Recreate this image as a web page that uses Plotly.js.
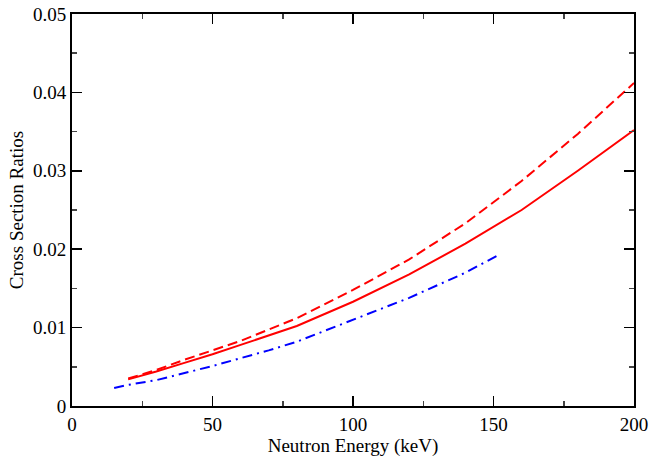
<!DOCTYPE html>
<html>
<head>
<meta charset="utf-8">
<script src="https://cdn.plot.ly/plotly-3.0.1.min.js"></script>
<style>html,body{margin:0;padding:0;background:#fff;}#chart{width:649px;height:459px;}</style>
</head>
<body>
<div id="chart"></div>
<script>
// Solid red curve
const solidX = [20, 30, 40, 50, 60, 80, 100, 120, 140, 160, 180, 200];
const solidY = [0.0034, 0.0044, 0.0055, 0.0066, 0.0078, 0.0102, 0.0133, 0.0168, 0.0207, 0.0250, 0.0300, 0.0352];
// Dashed red curve
const dashX = [20, 30, 40, 50, 60, 80, 100, 120, 140, 160, 180, 200];
const dashY = [0.0035, 0.0046, 0.0059, 0.0071, 0.0083, 0.0112, 0.0148, 0.0187, 0.0233, 0.0287, 0.0347, 0.0412];
// Blue dash-dot curve
const blueX = [15, 20, 30, 40, 50, 60, 70, 80, 100, 120, 140, 152];
const blueY = [0.0023, 0.0027, 0.0033, 0.0042, 0.0051, 0.0061, 0.0071, 0.0082, 0.0110, 0.0138, 0.0170, 0.0193];

const xTicks = [0, 50, 100, 150, 200];
const yTicks = [0, 0.01, 0.02, 0.03, 0.04, 0.05];
const yTickText = ["0", "0.01", "0.02", "0.03", "0.04", "0.05"];

const font = {family: "Liberation Serif, Times New Roman, serif", size: 19, color: "#000"};

const traces = [
  {x: solidX, y: solidY, mode: "lines", line: {color: "#ff0000", width: 2}, showlegend: false},
  {x: dashX, y: dashY, mode: "lines", line: {color: "#ff0000", width: 2, dash: "10px,5px"}, showlegend: false},
  {x: blueX, y: blueY, mode: "lines", line: {color: "#0000ff", width: 2, dash: "10px,5px,2px,5px"}, showlegend: false}
];

const layout = {
  width: 649, height: 459,
  margin: {l: 72, r: 15, t: 14, b: 53},
  paper_bgcolor: "#fff", plot_bgcolor: "#fff",
  font: font,
  xaxis: {
    range: [0, 200], tickvals: xTicks, ticks: "inside", ticklen: 10, tickwidth: 1.5, tickcolor: "#000",
    showline: true, linecolor: "#000", linewidth: 2, mirror: "allticks", showgrid: false, zeroline: false,
    tickfont: font,
    minor: {dtick: 25, ticks: "inside", ticklen: 5, tickwidth: 1.5, tickcolor: "#444", showgrid: false},
    title: {text: "Neutron Energy (keV)", font: font, standoff: 2}
  },
  yaxis: {
    range: [0, 0.05], tickvals: yTicks, ticktext: yTickText, ticks: "inside", ticklen: 10, tickwidth: 1.5, tickcolor: "#000",
    showline: true, linecolor: "#000", linewidth: 2, mirror: "allticks", showgrid: false, zeroline: false,
    tickfont: font,
    minor: {dtick: 0.005, ticks: "inside", ticklen: 5, tickwidth: 1.5, tickcolor: "#444", showgrid: false},
    title: {text: "Cross Section Ratios", font: font, standoff: 4}
  }
};

Plotly.newPlot("chart", traces, layout, {displayModeBar: false, staticPlot: true});
</script>
</body>
</html>
